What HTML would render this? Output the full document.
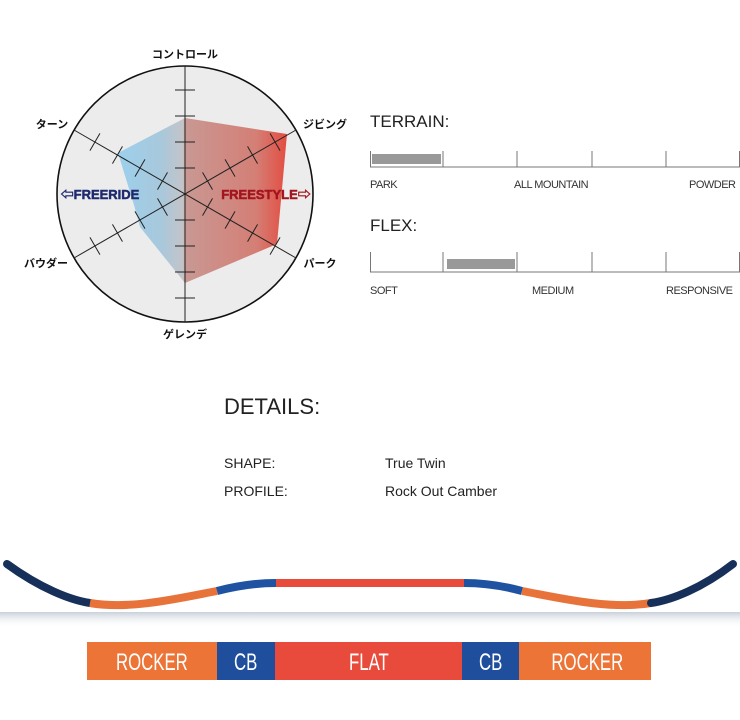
<!DOCTYPE html>
<html><head><meta charset="utf-8"><style>
body{margin:0;width:740px;height:720px;background:#fff;overflow:hidden;font-family:"Liberation Sans","Noto Sans CJK JP",sans-serif;}
</style></head><body>
<svg width="740" height="720" xmlns="http://www.w3.org/2000/svg" style="position:absolute;left:0;top:0">
<defs>
<linearGradient id="rg" x1="118" y1="0" x2="290" y2="0" gradientUnits="userSpaceOnUse">
<stop offset="0" stop-color="#9cd0ec"/>
<stop offset="0.25" stop-color="#a8c8dc"/>
<stop offset="0.38" stop-color="#c4c4c8"/>
<stop offset="0.39" stop-color="#c99893"/>
<stop offset="0.8" stop-color="#d47f76"/>
<stop offset="1" stop-color="#e5483c"/>
</linearGradient>
<linearGradient id="sh" x1="0" y1="0" x2="0" y2="1">
<stop offset="0" stop-color="#c4cbd6" stop-opacity="0.9"/>
<stop offset="1" stop-color="#ffffff" stop-opacity="0"/>
</linearGradient>
</defs>
<circle cx="185" cy="194" r="128" fill="#ececec" stroke="#111" stroke-width="1.6"/>
<polygon points="185,118 287,134 277,244 185,283 140,227 134,205 118,153" fill="url(#rg)"/>
<g stroke="#222" stroke-width="1">
<line x1="185" y1="66" x2="185" y2="322"/>
<line x1="74" y1="130" x2="296" y2="258"/>
<line x1="74" y1="258" x2="296" y2="130"/>
<g id="tk">
<line x1="175" y1="90" x2="195" y2="90"/><line x1="175" y1="116" x2="195" y2="116"/>
<line x1="175" y1="142" x2="195" y2="142"/><line x1="175" y1="168" x2="195" y2="168"/>
<line x1="175" y1="220" x2="195" y2="220"/><line x1="175" y1="246" x2="195" y2="246"/>
<line x1="175" y1="272" x2="195" y2="272"/><line x1="175" y1="298" x2="195" y2="298"/>
</g>
<use href="#tk" transform="rotate(60 185 194)"/>
<use href="#tk" transform="rotate(-60 185 194)"/>
</g>
<g font-size="11" font-weight="bold" fill="#111" text-anchor="middle">
<text x="185" y="58">コントロール</text>
<text x="52" y="128">ターン</text>
<text x="325" y="128">ジビング</text>
<text x="46" y="267">バウダー</text>
<text x="320" y="267">パーク</text>
<text x="185" y="338">ゲレンデ</text>
</g>
<text x="100" y="199" font-size="13" font-weight="900" fill="#1e2a6e" text-anchor="middle" stroke="#1e2a6e" stroke-width="0.5">⇦FREERIDE</text>
<text x="266" y="199" font-size="13" font-weight="900" fill="#a3141e" text-anchor="middle" stroke="#a3141e" stroke-width="0.5">FREESTYLE⇨</text>

<g font-size="11" fill="#333" letter-spacing="-0.5">
<text x="370" y="127" font-size="17" fill="#222" letter-spacing="0">TERRAIN:</text>
<text x="370" y="188">PARK</text><text x="514" y="188">ALL MOUNTAIN</text><text x="689" y="188">POWDER</text>
<text x="370" y="231" font-size="17" fill="#222" letter-spacing="0">FLEX:</text>
<text x="370" y="294">SOFT</text><text x="532" y="294">MEDIUM</text><text x="666" y="294">RESPONSIVE</text>
</g>
<g stroke="#777" stroke-width="1" fill="none">
<line x1="370" y1="167" x2="740" y2="167"/>
<line x1="370.5" y1="151" x2="370.5" y2="167"/><line x1="443" y1="151" x2="443" y2="167"/><line x1="517" y1="151" x2="517" y2="167"/><line x1="592" y1="151" x2="592" y2="167"/><line x1="666" y1="151" x2="666" y2="167"/><line x1="739.5" y1="151" x2="739.5" y2="167"/>
<line x1="370" y1="272" x2="740" y2="272"/>
<line x1="370.5" y1="252" x2="370.5" y2="272"/><line x1="443" y1="252" x2="443" y2="272"/><line x1="517" y1="252" x2="517" y2="272"/><line x1="592" y1="252" x2="592" y2="272"/><line x1="666" y1="252" x2="666" y2="272"/><line x1="739.5" y1="252" x2="739.5" y2="272"/>
</g>
<rect x="372" y="154" width="69" height="10" fill="#999"/>
<rect x="447" y="259" width="68" height="10" fill="#999"/>

<text x="224" y="414" font-size="22" fill="#222">DETAILS:</text>
<g font-size="14" fill="#222">
<text x="224" y="468">SHAPE:</text><text x="385" y="468">True Twin</text>
<text x="224" y="496">PROFILE:</text><text x="385" y="496">Rock Out Camber</text>
</g>

<rect x="0" y="612" width="740" height="16" fill="url(#sh)"/>
<g fill="none" stroke-width="8" stroke-linecap="round">
<path d="M7,564 C40,588 70,600 90,603" stroke="#17305a"/>
<path d="M90,603 C130,610 180,598 217,591" stroke="#e8733a" stroke-linecap="butt"/>
<path d="M217,591 C240,585 258,583 276,583" stroke="#1f52a0" stroke-linecap="butt"/>
<path d="M276,583 L464,583" stroke="#e84a3b" stroke-linecap="butt"/>
<path d="M464,583 C482,583 500,585 522,591" stroke="#1f52a0" stroke-linecap="butt"/>
<path d="M522,591 C560,598 610,610 651,603" stroke="#e8733a" stroke-linecap="butt"/>
<path d="M651,603 C672,600 702,588 733,564" stroke="#17305a"/>
</g>

<rect x="87" y="642" width="131" height="38" fill="#ec7437"/>
<rect x="217" y="642" width="58" height="38" fill="#1f4f9c"/>
<rect x="275" y="642" width="188" height="38" fill="#e84b3c"/>
<rect x="462" y="642" width="58" height="38" fill="#1f4f9c"/>
<rect x="519" y="642" width="132" height="38" fill="#ec7437"/>
<g font-size="24" fill="#fff" text-anchor="middle" font-family="'Liberation Sans Narrow','Liberation Sans',sans-serif" transform="scale(0.7,1)">
<text x="217" y="670">ROCKER</text>
<text x="351" y="670">CB</text>
<text x="527" y="670">FLAT</text>
<text x="701" y="670">CB</text>
<text x="839" y="670">ROCKER</text>
</g>
</svg>
</body></html>
